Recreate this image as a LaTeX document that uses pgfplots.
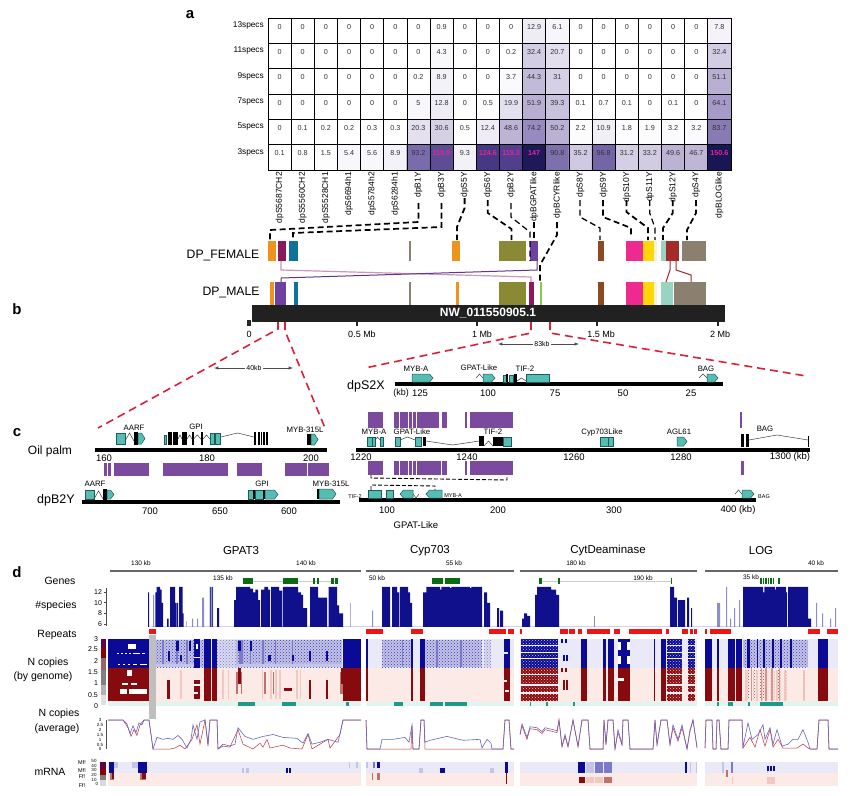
\documentclass[border=0pt]{standalone}
\usepackage{fontspec}
\setmainfont{Liberation Sans}
\usepackage{pgfplots}
\usepackage{pgfplotstable}
\usetikzlibrary{patterns}
\pgfplotsset{compat=1.18}
\definecolor{gteal}{HTML}{55BDB3}\definecolor{gedge}{HTML}{1E5C58}
\definecolor{pblock}{HTML}{7B4A9E}\definecolor{rdash}{HTML}{D9213A}
\definecolor{hbd}{HTML}{0A0A96}\definecolor{hbm}{HTML}{7A7AC8}\definecolor{hbl}{HTML}{C4C4E8}\definecolor{hbg}{HTML}{E9E9F7}
\definecolor{hrd}{HTML}{870A0F}\definecolor{hrm}{HTML}{C0716A}\definecolor{hrl}{HTML}{F0C9C2}\definecolor{hrg}{HTML}{FBEAE5}
\definecolor{tld}{HTML}{1D9A8A}\definecolor{tlg}{HTML}{E0F5F0}
\definecolor{navy}{HTML}{10108C}\definecolor{lnavy}{HTML}{8C8CC8}
\definecolor{gdark}{HTML}{0B6B12}\definecolor{rep}{HTML}{EE1515}
\definecolor{cor}{HTML}{F0921E}\definecolor{cma}{HTML}{8B1A5B}\definecolor{cte}{HTML}{0E7396}
\definecolor{cta}{HTML}{8B7F70}\definecolor{col}{HTML}{8A8A35}\definecolor{cpu}{HTML}{7040A0}
\definecolor{cbr}{HTML}{8B4A20}\definecolor{cpi}{HTML}{EE2A90}\definecolor{cye}{HTML}{FFD60A}
\definecolor{cpa}{HTML}{FAF3D0}\definecolor{cmi}{HTML}{98D4BF}\definecolor{crb}{HTML}{A52A2A}
\definecolor{cgr}{HTML}{8CC84B}\definecolor{pinklab}{HTML}{E0259A}
\definecolor{hbp}{HTML}{3A3AAC}\definecolor{hrp}{HTML}{B04A4A}
\newcommand\R[5]{\addplot[fill=#5,draw=none,forget plot] coordinates {(#1,#2)(#3,#2)(#3,#4)(#1,#4)} --cycle;}
\newcommand\RR[4]{\foreach \a/\b in {#4}{\edef\tmp{\noexpand\addplot[fill=#3,draw=none,forget plot] coordinates {(\a,#1)(\b,#1)(\b,#2)(\a,#2)} --cycle;}\tmp}}
\newcommand\PP[4]{\foreach \a/\b in {#4}{\edef\tmp{\noexpand\addplot[pattern=crosshatch dots,pattern color=#3,draw=none,forget plot] coordinates {(\a,#1)(\b,#1)(\b,#2)(\a,#2)} --cycle;}\tmp}}
\newcommand\Li[3]{\addplot[#1,line width=#2,forget plot] coordinates {#3};}
\newcommand\T[4]{\node[font=\fontsize{#3}{#3}\selectfont,inner sep=0pt] at (axis cs:#1,#2) {#4};}
\newcommand\G[4]{\addplot[fill=gteal,draw=gedge,line width=.5pt,forget plot] coordinates {(#1,#2)(#3,#2)(#3,#4)(#1,#4)} --cycle;}
\newcommand\K[4]{\addplot[fill=black,draw=none,forget plot] coordinates {(#1,#2)(#3,#2)(#3,#4)(#1,#4)} --cycle;}
\newcommand\GR[4]{\pgfmathsetmacro\pa{#3-3.5}\pgfmathsetmacro\pm{(#2+#4)/2}\edef\tmp{\noexpand\addplot[fill=gteal,draw=gedge,line width=.5pt,forget plot] coordinates {(#1,#2)(\pa,#2)(#3,\pm)(\pa,#4)(#1,#4)} --cycle;}\tmp}
\newcommand\GL[4]{\pgfmathsetmacro\pa{#1+3.5}\pgfmathsetmacro\pm{(#2+#4)/2}\edef\tmp{\noexpand\addplot[fill=gteal,draw=gedge,line width=.5pt,forget plot] coordinates {(\pa,#2)(#3,#2)(#3,#4)(\pa,#4)(#1,\pm)} --cycle;}\tmp}
\newcommand\Ca[4]{\pgfmathsetmacro\pm{(#1+#2)/2}\edef\tmp{\noexpand\addplot[black!75,line width=.5pt,forget plot] coordinates {(#1,#3)(\pm,#4)(#2,#3)};}\tmp}
\tikzset{bd/.style={black,line width=1.7pt,dash pattern=on 6pt off 3.5pt},rd/.style={rdash,line width=1.6pt,dash pattern=on 8pt off 5pt}}
\pgfplotstableread[row sep=\\]{
x y v\\
0 5 0\\1 5 0\\2 5 0\\3 5 0\\4 5 0\\5 5 0\\6 5 0\\7 5 0.9\\8 5 0\\9 5 0\\10 5 0\\11 5 12.9\\12 5 6.1\\13 5 0\\14 5 0\\15 5 0\\16 5 0\\17 5 0\\18 5 0\\19 5 7.8\\
0 4 0\\1 4 0\\2 4 0\\3 4 0\\4 4 0\\5 4 0\\6 4 0\\7 4 4.3\\8 4 0\\9 4 0\\10 4 0.2\\11 4 32.4\\12 4 20.7\\13 4 0\\14 4 0\\15 4 0\\16 4 0\\17 4 0\\18 4 0\\19 4 32.4\\
0 3 0\\1 3 0\\2 3 0\\3 3 0\\4 3 0\\5 3 0\\6 3 0.2\\7 3 8.9\\8 3 0\\9 3 0\\10 3 3.7\\11 3 44.3\\12 3 31\\13 3 0\\14 3 0\\15 3 0\\16 3 0\\17 3 0\\18 3 0\\19 3 51.1\\
0 2 0\\1 2 0\\2 2 0\\3 2 0\\4 2 0\\5 2 0\\6 2 5\\7 2 12.8\\8 2 0\\9 2 0.5\\10 2 19.9\\11 2 51.9\\12 2 39.3\\13 2 0.1\\14 2 0.7\\15 2 0.1\\16 2 0\\17 2 0.1\\18 2 0\\19 2 64.1\\
0 1 0\\1 1 0.1\\2 1 0.2\\3 1 0.2\\4 1 0.3\\5 1 0.3\\6 1 20.3\\7 1 30.6\\8 1 0.5\\9 1 12.4\\10 1 48.6\\11 1 74.2\\12 1 50.2\\13 1 2.2\\14 1 10.9\\15 1 1.8\\16 1 1.9\\17 1 3.2\\18 1 3.2\\19 1 83.7\\
0 0 0.1\\1 0 0.8\\2 0 1.5\\3 0 5.4\\4 0 5.6\\5 0 8.9\\6 0 93.2\\7 0 110.9\\8 0 9.3\\9 0 124.6\\10 0 119.3\\11 0 147\\12 0 90.8\\13 0 35.2\\14 0 96.8\\15 0 31.2\\16 0 33.2\\17 0 49.6\\18 0 46.7\\19 0 150.6\\
}\heat
\begin{document}
\begin{tikzpicture}
\begin{axis}[at={(0pt,0pt)},anchor=south west,scale only axis,width=856pt,height=795pt,
 xmin=0,xmax=856,ymin=0,ymax=795,y dir=reverse,hide axis,clip=false]
\R{0}{0}{856}{795}{white}
\node[font=\bfseries\fontsize{15}{15}\selectfont,inner sep=0pt] at (axis cs:190,15) {a};
\node[font=\bfseries\fontsize{15}{15}\selectfont,inner sep=0pt] at (axis cs:17,309) {b};
\node[font=\bfseries\fontsize{15}{15}\selectfont,inner sep=0pt] at (axis cs:17,433) {c};
\node[font=\bfseries\fontsize{15}{15}\selectfont,inner sep=0pt] at (axis cs:17,572) {d};
\T{223}{255.7}{12.2}{DP\_FEMALE}
\T{231}{292.7}{12.2}{DP\_MALE}
\RR{241}{261}{cor}{268.4/276.1,451.8/459.9}
\RR{241}{261}{cma}{277.9/285.9}
\RR{241}{261}{cte}{289/297.9}
\RR{241}{261}{cta}{409/411,682/706}
\RR{241}{261}{col}{498.8/525.8}
\RR{241}{261}{cpu}{530/538}
\RR{241}{261}{cbr}{598/604}
\RR{241}{261}{cpi}{625.8/643}
\RR{241}{261}{cye}{643/654}
\RR{241}{261}{cpa}{654/657}
\RR{241}{261}{cmi}{660.9/665.5}
\RR{241}{261}{crb}{665.5/679}
\RR{282}{305}{cor}{270/274.4,456/458.9}
\RR{282}{305}{cpu}{275/286.3}
\RR{282}{305}{cte}{294/297.9}
\RR{282}{305}{cta}{409/411,673.9/706}
\RR{282}{305}{col}{498.8/525.8}
\RR{282}{305}{cma}{529.4/534}
\RR{282}{305}{cgr}{540/542}
\RR{282}{305}{cbr}{598/604}
\RR{282}{305}{cpi}{625.8/643}
\RR{282}{305}{cye}{643/654}
\RR{282}{305}{cpa}{654/657}
\RR{282}{305}{cmi}{661/673}
\Li{draw=cma!45}{1.2pt}{(281,261)(281,270)(531,277)(531,282)}
\Li{draw=cpu!85!black}{1pt}{(537,261)(537,270)(281,278)(281,282)}
\Li{draw=crb}{1pt}{(670,261)(670,270)(666,282)}
\Li{draw=crb}{1pt}{(676,261)(676,270)(691,275)(691,282)}
\R{252}{305}{725}{322}{black!87}
\node[font=\bfseries\fontsize{12}{12}\selectfont,text=white,inner sep=0pt] at (axis cs:488,313.5) {NW\_011550905.1};
\RR{320}{326}{black!85}{247/251}
\RR{322}{326}{black!85}{356/358,476/478,596/598,717/719}
\T{249}{334}{9}{0}\T{362}{334}{9}{0.5 Mb}\T{482}{334}{9}{1 Mb}\T{601}{334}{9}{1.5 Mb}\T{720}{334}{9}{2 Mb}
\Li{bd}{1.7pt}{(418.4,203)(418.4,222)(270,230)(270,240)}
\Li{bd}{1.7pt}{(441.5,203)(441.5,227)(293,233)(293,240)}
\Li{bd}{1.8pt}{(464.6,198)(464.6,208)(457,227)(457,240)}
\Li{bd}{1.7pt}{(487.8,200)(487.8,213)(511.5,229)(511.5,240)}
\Li{bd}{1.2pt}{(510.9,203)(510.9,217)(530,232)(530,261)}
\Li{bd}{1.4pt}{(534,222)(534,241)}
\Li{bd}{1.7pt}{(557,222)(557,235)(540,265)(540,281)}
\Li{bd}{1.3pt}{(580,200)(580,217)(600,228)(600,240)}
\Li{bd}{1.7pt}{(603,200)(603,217)(631,228)(631,235)}
\Li{bd}{1.8pt}{(626.5,200)(626.5,212)(648,228)(648,240)}
\Li{bd}{1.2pt}{(649.7,200)(649.7,213)(655,228)(655,240)}
\Li{bd}{1.8pt}{(672.8,200)(672.8,213)(663,228)(663,240)}
\Li{bd}{1.7pt}{(696,200)(696,213)(687,230)(687,240)}
\Li{rd}{1.6pt}{(278,322)(278,329)(98,428)}
\Li{rd}{1.6pt}{(285,322)(285,331)(325,428)}
\Li{rd}{1.6pt}{(531,322)(531,333)(365,368)}
\Li{rd}{1.6pt}{(550,322)(550,333)(806,376)}
\draw[<->,>=latex,black!70,line width=.5pt] (axis cs:214,368) -- (axis cs:293,368);
\node[fill=white,inner sep=1pt,font=\fontsize{7}{7}\selectfont] at (axis cs:254,368) {40kb};
\draw[<->,>=latex,black!70,line width=.5pt] (axis cs:498,344) -- (axis cs:579,344);
\node[fill=white,inner sep=1pt,font=\fontsize{7}{7}\selectfont] at (axis cs:542,344) {83kb};
\T{50}{451}{12}{Oil palm}
\T{56}{500}{12.5}{dpB2Y}
\T{366}{386}{12.5}{dpS2X}
\R{95}{448}{327}{452}{black}
\R{356}{448}{810}{452}{black}
\R{82}{500}{340}{504}{black}
\R{359}{498}{756}{502}{black}
\R{395}{382}{723}{386}{black}
\T{104}{458}{9.5}{160}\T{207}{458}{9.5}{180}\T{311}{458}{9.5}{200}
\T{361}{457}{9.5}{1220}\T{467}{457}{9.5}{1240}\T{574}{457}{9.5}{1260}\T{681}{457}{9.5}{1280}\T{790}{457}{9.5}{1300 (kb)}
\T{150}{511}{9.5}{700}\T{220}{511}{9.5}{650}\T{289}{511}{9.5}{600}
\T{387}{510}{9.5}{100}\T{498}{510}{9.5}{200}\T{614}{510}{9.5}{300}\T{738}{510}{9.5}{400 (kb)}
\T{416}{525}{9.5}{GPAT-Like}
\T{401}{393}{9}{(kb)}\T{420}{393}{9.5}{125}\T{488}{393}{9.5}{100}\T{555}{393}{9.5}{75}\T{623}{393}{9.5}{50}\T{691}{393}{9.5}{25}
\RR{463}{476}{pblock}{103.7/107.3,108.3/111.3,114/149,163/228,237/261.7,285/306.7,308/329}
\RR{412}{428}{pblock}{368/383,394/398.7,399.7/408,409/412.3,413.3/416,417.3/439.3,442/447,465/467.3,470/513,740.3/742}
\RR{461}{475}{pblock}{368/383,394/398.7,399.7/408,409/412.3,413.3/416,417.3/441,442/447,465/467.3,470/513,741/744}
\T{134}{428}{7.8}{AARF}\T{196}{427}{7.8}{GPI}\T{305}{430}{7.8}{MYB-315L}
\G{116}{433}{125}{444}\Ca{125}{134}{441}{433}\K{134}{432}{138}{445}\GR{138}{433}{145}{444}
\G{164}{435}{166}{444}\K{168}{432}{172}{445}\K{173}{432}{178}{445}\Ca{178}{182}{439}{435}\K{182}{432}{187}{445}\Ca{187}{192}{439}{435}\K{192}{432}{193.5}{445}\Ca{193.5}{201}{439}{435}\K{201}{432}{203}{445}\Ca{203}{210}{439}{435}
\G{210}{433}{214}{444}\G{215}{433}{220}{444}\Ca{221}{254}{437}{433}
\RR{432}{445}{black}{254/256,257.5/259.5,260.5/262,263/264.5,265.5/267.5}
\K{307}{434}{311}{445}\GR{311}{434}{318}{445}
\T{95}{484}{7.8}{AARF}\T{262}{484}{7.8}{GPI}\T{331}{484}{7.8}{MYB-315L}
\G{85}{490}{94}{499}\Ca{94}{103}{499}{491}\K{103}{489}{107}{500}\GR{107}{490}{114}{499}
\G{248}{490}{253}{499}\K{253}{490}{255}{499}\G{255}{490}{263}{499}\K{263}{490}{265}{499}\GR{265}{490}{278}{499}
\K{317}{489}{319}{499}\GR{319}{489}{336}{499}
\T{416}{369}{7.8}{MYB-A}\T{479}{368}{7.8}{GPAT-Like}\T{525}{369}{7.8}{TIF-2}\T{706}{369}{7.8}{BAG}
\GR{412}{374}{433}{382}
\Ca{476}{483}{378}{374}\GR{483}{374}{495}{382}
\G{503}{375}{506}{382}\K{506}{374}{508}{382}\G{509}{375}{513}{382}\K{514}{374}{517}{382}\Ca{517}{526}{381}{378}\G{526}{374}{549}{382}
\Ca{699}{707}{378}{374}\GR{707}{374}{718}{382}
\T{374}{432}{7.8}{MYB-A}\T{412}{432}{7.8}{GPAT-Like}\T{493}{432}{7.8}{TIF-2}\T{602}{432}{7.8}{Cyp703Like}\T{679}{432}{7.8}{AGL61}\T{765}{429}{7.8}{BAG}
\G{367}{437}{372}{446}\G{372}{437}{375}{446}\Ca{375}{380}{440}{437}\G{380}{437}{383}{446}
\G{395}{437}{400}{446}\Ca{400}{415}{440}{437}\G{415}{437}{421}{446}\K{423}{437}{426}{446}\Ca{426}{479}{441}{445}
\K{479}{436}{484}{446}\Ca{484}{493}{446}{441}\K{493}{437}{503}{446}\G{503}{437}{511}{446}
\G{600}{437}{608}{446}\G{608}{437}{613}{446}
\GR{677}{437}{687}{446}
\K{741}{434}{744}{447}\K{746}{434}{749}{447}\Li{draw=black!75}{.5pt}{(749,440)(777,435)(808,440)}\K{807.5}{436}{808.5}{447}
\T{355}{497}{5.5}{TIF-2}\T{453}{496}{5.5}{MYB-A}\T{764}{497}{5.5}{BAG}
\G{368}{490}{381}{498}\G{386}{490}{393}{498}\GL{400}{490}{413}{498}\Ca{413}{419}{494}{498}\GL{426}{490}{442}{498}
\Ca{735}{742}{494}{490}\GR{742}{490}{754}{498}
\Li{black,line width=.9pt,dash pattern=on 4pt off 2pt}{.9pt}{(371,475)(371,478)(507,480)(507,475)}
\Li{black,line width=.9pt,dash pattern=on 4pt off 2pt}{.9pt}{(371,490)(371,485)(435,486)(435,490)}
\T{60}{581}{10.5}{Genes}\T{56}{606}{10.5}{\#species}\T{57}{635}{10.5}{Repeats}
\T{48}{663}{10.5}{N copies}\T{43}{677}{10.5}{(by genome)}
\T{59}{714}{10.5}{N copies}\T{57}{729}{10.5}{(average)}\T{50}{772}{10.5}{mRNA}
\T{241}{551}{11.5}{GPAT3}\T{430}{551}{11.5}{Cyp703}\T{608}{551}{11.5}{CytDeaminase}\T{761}{551}{11.5}{LOG}
\RR{570.2}{571.8}{black!60}{110/361,366/514,520/697,705/838}
\T{141}{563}{6.5}{130 kb}\T{306}{563}{6.5}{140 kb}\T{223}{578}{6.5}{135 kb}\T{377}{578}{6.5}{50 kb}\T{454}{563}{6.5}{55 kb}\T{576}{563}{6.5}{180 kb}\T{643}{578}{6.5}{190 kb}\T{751}{577}{6.5}{35 kb}\T{816}{563}{6.5}{40 kb}
\Li{draw=black!20}{.6pt}{(253,581)(283,581)}\Li{draw=black!20}{.6pt}{(298,581)(338,581)}\Li{draw=black!20}{.6pt}{(542,581)(671,581)}
\RR{578}{584}{gdark}{243/253,283/298,313/315,317/319,331/334,335/338,432/443,445/460,539/542,558/560,671/672,760/761.5,762.5/764,765/766.5,767.5/769,770/771.5,772.5/774,778/780}
\Li{draw=black!70}{.5pt}{(106,588)(106,626)}
\RR{591.7}{592.3}{black!70}{104/106}\RR{602.4}{603}{black!70}{104/106}\RR{613}{613.6}{black!70}{104/106}\RR{623.7}{624.3}{black!70}{104/106}
\T{98}{592}{7}{12}\T{98}{603}{7}{10}\T{100}{613}{7}{8}\T{100}{624}{7}{6}
\RR{629}{634}{rep}{149/156,366/383,411/423,489/506,508/514,520/522,560/568,568.5/575,578/582,587/610,614/620,629/662,666/669,682/688,690/693,693.5/697,705/707,710/731,808/820,827/838}
\RR{639}{668}{hbg}{108/361,366/514,520/697,705/838}
\RR{668}{702}{hrg}{108/361,366/514,520/697,705/838}
\RR{702}{706}{tlg}{108/361,366/514,520/697,705/838}
\RR{640}{667}{hbl}{156/194,200/204,236/342,382/412,424/482,743/808}
\RR{640}{667}{hbg!60!hbl}{217/236,484/491}
\PP{640}{667}{hbp}{156/194,200/204,236/342,382/412,424/482,743/808}
\PP{640}{667}{hbm}{217/236,484/491}
\RR{640}{667}{hbm}{162/164,176/178,186/188,239/243,250/251,262/264,275/276,292/293,402/403,436/438,460/462}
\RR{639}{668}{hbd}{108/149,343/361,204/211,212/217,194/200,366/367.5,411/413,420/424.5,504/510}
\RR{651}{661}{hbd}{168/169.5,309/310.5,326/328}
\RR{641}{651}{hbd}{238/241,176/179,250/252,189/191}
\RR{655}{661}{hbd}{180/182,268/271,292/294}
\RR{664}{667}{hbl}{156/194,236/342}
\RR{644}{649}{white}{128/136,196/198}
\RR{652.5}{654}{white}{117/119,121/123,125/127,129/131,133/140,142/145}
\RR{663.5}{665}{white}{118/120,123/125,128/130,133/137,140/147}
\RR{656.5}{658}{white}{194/200}
\RR{652}{654}{hbg}{504/508}
\RR{668}{701}{hrd}{108/149,343/361,204/211,212/217,366/367.5,411/413,420/424.5,504/510}
\RR{670}{699}{hrl}{180/182,222/224,228/229,262/263,270/272,275/277,279/281,296/298,300/301}
\RR{672}{694}{hrm}{236/238,241/242,264/266,273/274,340/343}
\RR{680}{699}{hrd}{167/169.5,194/200,309/310.5,326/328}
\RR{668}{684}{hrd}{238/241,341/343}
\RR{688}{691}{hrd}{284/292}
\RR{670}{676}{white}{127/132}
\RR{683}{685}{white}{122/128,131/137}
\RR{689}{694}{white}{120/127,129/147}
\RR{684}{686}{white}{194/200}
\RR{692}{694}{white}{194/198}
\RR{680}{682}{white}{504/507}
\RR{690}{692}{white}{505/509}
\RR{639}{668}{hbd}{521/558,581/587,603/606,608/614,654/655,661/666,667/682,688/695,618/630}
\RR{668}{701}{hrd}{521/558,581/587,603/606,608/614,654/655,661/666,667/682,688/695,618/630}
\RR{639}{643}{hbd}{561/563,565/567}
\RR{655}{661}{hbd}{563/565,566/568}
\RR{668}{672}{hrd}{561/563,565/567}
\RR{680}{690}{hrd}{563/565,566/568}
\PP{639}{668}{hbl}{521/558,667/682,688/695}
\PP{668}{701}{hrl}{521/558,667/682,688/695}
\foreach \yy/\yb in {645/646,651.5/652.5,657.5/658.5,674/675,684/685.5,692/693.5}{\edef\tmp{\noexpand\RR{\yy}{\yb}{white!75!hbl}{521/558,667/682,688/695}}\tmp}
\RR{642}{650}{white}{618/621,627/630}
\RR{656}{664}{white}{618/621,627/630}
\RR{678}{681}{white}{618/624}
\RR{639}{668}{hbd}{705/712,717/719,728/734.5,735.5/742,818/828,747/750,757/758,763/765,772/774,780/782,790/792}
\RR{668}{701}{hrd}{705/712,717/719,728/734.5,735.5/742,818/828}
\RR{670}{701}{hrl}{745/747,756/758,776/778,784/786,803/805}
\PP{670}{699}{hrp}{747/749,753/755,760/768,770/775,778/781,785/787,803/804}
\RR{668}{701}{hrm!70!hrg}{751/752,761/762,765/767,771/773,779/780}
\RR{702}{705.5}{tld}{238/255,282/296,346/349,394/403,430/443,445/467,717/719,728/733,748/750,760/783,530/531,546/548,573/575}
\foreach \yy/\yb/\cc in {639/648/{black!55!blue!60!red},648/658/{red!55!black},658/670/{red!30!black!60},670/685/{black!50},685/695/{black!30},695/705/{black!12}}{\edef\tmp{\noexpand\R{101}{\yy}{106}{\yb}{\cc}}\tmp}
\T{96}{639}{7}{3}\T{93}{649}{7}{2.5}\T{96}{661}{7}{2}\T{93}{672}{7}{1.5}\T{96}{683}{7}{1}\T{93}{695}{7}{0.5}\T{96}{706}{7}{0}
\R{149}{635}{156}{719}{black!25}
\Li{draw=black!70}{.5pt}{(106,720)(106,749)}
\T{100}{720}{4.5}{3}\T{100}{725}{4.5}{2.5}\T{100}{730}{4.5}{2}\T{100}{735}{4.5}{1.5}\T{100}{740}{4.5}{1}\T{100}{745}{4.5}{0.5}\T{100}{749}{4.5}{0}
\RR{762}{773}{hbg}{108/361,366/514,520/697,705/838}
\RR{773}{786}{hrg}{108/361,366/514,520/697,705/838}
\foreach \yy/\yb/\cc in {762/769/{black!55!blue!60!red},769/775/{red!55!black},775/780/{black!50},780/786/{black!15}}{\edef\tmp{\noexpand\R{100}{\yy}{106}{\yb}{\cc}}\tmp}
\RR{762}{773}{hbd}{108.5/114,138/147,505/508,578/585,685/687}
\RR{762}{768}{hbl}{114/118,132/138,349/350,356/358,366/367.5}
\RR{762}{768}{hbm}{373/375}\RR{762}{768}{hbd}{377/380}
\RR{768}{773}{hbl}{242/244,246/249,419/423,490/494,767/768}
\RR{768}{773}{hbd}{286/288,289/291,440/445}
\RR{762}{773}{hbm}{604/612,595/603,731/733}
\RR{762}{773}{hbl}{586/594,690/691,696/697,722/724}
\RR{766}{771}{hbd}{767/769,770/772,773/775}
\RR{773}{780}{hrm}{110/114,140/146,372/373,377/380}
\RR{773}{779}{hrd}{112/114,142/146}
\RR{773}{784}{hrd}{505.5/506.5}
\RR{777}{783}{hrd}{579/585}\RR{777}{783}{hrm}{604/612}\RR{777}{783}{hrl}{595/603,586/594}
\RR{770}{777}{hrm}{726/728}\RR{777}{784}{hrl}{767/775,732/733}
\T{82}{762}{5.5}{Mf!}\T{82}{770}{5.5}{Mf!}\T{82}{776}{5.5}{Ff!}\T{82}{785}{5.5}{Ff!}
\T{94}{761}{4.5}{50}\T{94}{766}{4.5}{40}\T{94}{770}{4.5}{30}\T{94}{775}{4.5}{20}\T{94}{780}{4.5}{10}\T{97}{784}{4.5}{0}
\end{axis}
\begin{axis}[at={(268pt,625pt)},anchor=south west,scale only axis,width=463pt,height=152pt,
 xmin=-0.5,xmax=19.5,ymin=-0.5,ymax=5.5,axis line style={black,line width=.8pt},axis on top,
 colormap={hm}{rgb255(0)=(255,255,255) rgb255(10)=(242,240,247) rgb255(32)=(212,206,228) rgb255(50)=(186,177,212) rgb255(75)=(150,137,190) rgb255(93)=(122,108,170) rgb255(120)=(80,62,140) rgb255(150)=(24,22,84)},
 point meta min=0,point meta max=150,
 xtick={0,...,19},ytick={0,...,5},
 minor xtick={-0.5,0.5,...,19.5},minor ytick={-0.5,0.5,...,5.5},
 grid=minor,minor grid style={black,line width=.8pt},
 tick style={draw=none},minor tick length=0pt,major tick length=0pt,
 xticklabels={dpS5687CH2,dpS5560CH2,dpS5528CH1,dpS6694h1,dpS5784h2,dpS6284h1,dpB1Y,dpB3Y,dpS5Y,dpS6Y,dpB2Y,dpBGPATlike,dpBCYRlike,dpS8Y,dpS9Y,dpS10Y,dpS11Y,dpS12Y,dpS4Y,dpBLOGlike},
 x tick label style={rotate=90,anchor=east,font=\fontsize{8.5}{8.5}\selectfont,inner sep=2pt},
 yticklabels={3specs,5specs,7specs,9specs,11specs,13specs},
 y tick label style={font=\fontsize{8.3}{8.3}\selectfont,yshift=5pt,inner xsep=4pt}]
\addplot[matrix plot*,mesh/cols=20,mesh/ordering=x varies,point meta=explicit,forget plot] table[x=x,y=y,meta=v] {\heat};
\addplot[draw=none,mark=none,forget plot,point meta=explicit symbolic,
 nodes near coords={\ifdim\pgfplotspointmeta pt>100pt \textcolor{pinklab}{\bfseries\pgfplotspointmeta}\else\textcolor{black!80}{\pgfplotspointmeta}\fi},
 every node near coord/.append style={anchor=center,yshift=4pt,font=\fontsize{7.2}{7.2}\selectfont,inner sep=0pt}]
 table[x=x,y=y,meta=v] {\heat};
\end{axis}
\begin{axis}[at={(0pt,168pt)},anchor=south west,scale only axis,width=856pt,height=40pt,
 xmin=0,xmax=856,ymin=5.4,ymax=13,hide axis]
\addplot[const plot,fill=lnavy,draw=none,forget plot] coordinates {
(153,11.5)(154,0)(186,6.5)(186.7,0)(192,7)(193,0)(197,7)(198,0)(202,11)(204,0)(209.5,13)(213,0)(350,10)(350.6,0)
(372,8.5)(373,0)(594,7.5)(594.8,0)(717,10)(720,0)(726,13)(727,0)(730,7)(731,0)(734,9)(735,0)(739,10.5)(740,0)(816,10)(817,0)(822,8)(823,0)(830,7)(831,0)(835,9)(836,0)} \closedcycle;
\addplot[const plot,fill=navy,draw=none,forget plot] coordinates {
(148,12)(149,0)(155.3,12)(156.7,13)(158,0)(158.4,13)(160,12.5)(161.5,10)(163,0)(167,7)(168.5,0)(170,13)(172,0)(172.4,13)(175,10)(176.6,0)(177,10)(178,0)(179,13)(181,0)(181.4,13)(182.5,8)(183.5,0)
(210,13)(210.6,0)(212,13)(212.6,0)(217,9)(219,0)
(234,10.5)(236,13)(240,0)(240.4,13)(246,0)(246.4,13)(250,12.7)(253,12)(255,0)(255.4,12.5)(258,10.5)(260,0)(261,12.5)(264,0)(264.4,13)(268,0)(268.4,12.5)(270,0)(271,13)(275,0)(275.4,13)(279,0)(279.4,12.3)(282,0)(282.8,13)(287,0)(287.4,13)(293,0)(293.4,13)(298,12)(301,0)(301.4,11.5)(303,9)(307,0)(310,13)(313,0)(313.4,13)(318,11)(320,0)(320.4,11)(327,0)(328.5,13)(333,0)(333.4,13)(337,9.5)(339,0)(339.4,8)(343,0)
(382,13)(385,0)(385.4,13)(388,0)(388.4,13)(390,0)(392,13)(395,0)(395.4,13)(397,12)(399,0)(399.8,13)(403,0)(403.4,13)(408,12)(410,10)(412,0)(423,12)(426,0)(426.4,13)(432,0)(432.4,13)(440,12.5)(441,0)(441.4,13)(450,12.8)(451,0)(451.4,13)(458,0)(458.4,13)(464,0)(464.4,13)(470,12.8)(471,0)(471.4,13)(476,0)(476.4,13)(482,0)(484,12)(487,10)(490,0)(497,9)(499,0)(500,8.5)(503,0)
(522,7)(524,8)(527,7.5)(530,0)(535,11.5)(537,13)(540,0)(540.4,13)(545,0)(545.4,13)(551,12.5)(553,0)(553.4,12.5)(556,11.5)(559,0)(670,13)(672,0)(672.4,13)(674,11)(677,0)(678,10.5)(681,0)(681.4,10.5)(685,0)(687,11)(689,0)(691,9)(692,0)
(743,13)(747,0)(747.4,13)(752,0)(752.4,13)(757,0)(757.4,13)(763,12)(764,0)(764.4,13)(770,0)(770.4,13)(775,12.5)(776,13)(781,0)(781.4,13)(786,12)(787,0)(788,13)(793,0)(793.4,13)(800,0)(800.4,13)(808,7)(811,0)} \closedcycle;
\end{axis}
\begin{axis}[at={(0pt,46pt)},anchor=south west,scale only axis,width=856pt,height=29pt,
 xmin=0,xmax=856,ymin=0,ymax=3,hide axis,clip=false]
\addplot[draw=red!70!black!80,line width=.5pt,forget plot] coordinates {(108,3)(123,3)(128,2.2)(131,1.3)(134,2)(137,1.4)(140,2.5)(144,3)(149,3)(153,0)(170,0)(175,.1)(180,.4)(185,0)(192,1)(197,2.5)(200,.5)(205,3)(208,.3)(210,3)(217,3)(218,0)(223,.3)(230,.2)(238,2)(243,.5)(253,0)(260,.6)(263,.2)(267,1)(270,.1)(283,.4)(290,.1)(302,0)(308,1.5)(312,0)(328,1)(330,.1)(340,1.5)(343,3)(361,3)};
\addplot[draw=red!70!black!80,line width=.5pt,forget plot] coordinates {(366,3)(367,0)(411,0)(412,2.4)(413,0)(419,0)(421,3)(424,3)(425,0)(503,0)(505,3)(509,3)(511,0)(514,0)};
\addplot[draw=red!70!black!80,line width=.5pt,forget plot] coordinates {(520,1.5)(522,2.4)(527,1)(530,2.1)(537,2)(542,1.6)(545,2)(557,1.7)(559,3)(562,.2)(565,1.3)(568,.2)(573,3)(578,.2)(582,3)(588,3)(590,0)(603,0)(604,3)(606,.4)(608,3)(613,3)(615,0)(618,1.7)(622,.4)(623,3)(628,3)(630,0)(653,0)(655,3)(657,.4)(661,3)(667,3)(670,.4)(673,2.2)(678,.8)(682,2.2)(687,0)(690,1.8)(693,3)(697,.1)};
\addplot[draw=red!70!black!80,line width=.5pt,forget plot] coordinates {(705,.1)(706,3)(712,3)(713,0)(716,0)(717,3)(719,3)(721,0)(728,0)(729,3)(742,3)(743,.1)(750,1.2)(755,.2)(760,2)(765,.3)(770,2)(773,.2)(778,1)(783,.1)(797,.1)(803,.5)(808,.1)(810,0)(817,0)(819,3)(828,3)(829,0)(838,0)};
\addplot[draw=blue!60!black!60,line width=.6pt,forget plot] coordinates {(108,3)(123,3)(127,2.6)(130,1.6)(133,2.4)(136,1.7)(139,2.7)(142,2.5)(144,3)(149,3)(153,0)(157,1.2)(163,1)(168,1.1)(173,1)(178,1.4)(182,1)(187,.1)(191,1)(193,2.5)(197,1)(200,2.8)(205,3)(208,.6)(210,3)(217,3)(218,0)(223,.5)(230,.3)(235,.5)(238,2.2)(245,1.3)(253,1)(263,1.3)(273,1.5)(283,1.2)(297,1.1)(303,.6)(308,1.6)(312,.5)(320,.7)(328,1)(338,.7)(343,3)(361,3)};
\addplot[draw=blue!60!black!60,line width=.6pt,forget plot] coordinates {(366,3)(367,0)(380,0)(382,1)(393,1)(405,1.2)(409,.7)(412,2.5)(413,0)(419,0)(421,3)(424,3)(425,.7)(430,.9)(447,1.3)(463,.9)(480,1)(482,.1)(487,1)(491,.6)(492,0)(503,0)(505,3)(509,3)(511,0)(514,0)};
\addplot[draw=blue!60!black!60,line width=.6pt,forget plot] coordinates {(520,1.5)(522,2.6)(527,1.2)(530,2.3)(537,2.2)(542,1.8)(545,2.2)(557,1.9)(559,3)(562,.3)(565,1.5)(568,.3)(573,3)(578,.3)(582,3)(588,3)(590,0)(603,0)(604,3)(606,.5)(608,3)(613,3)(615,0)(618,2)(622,.5)(623,3)(628,3)(630,0)(653,0)(655,3)(657,.5)(661,3)(667,3)(670,.5)(673,2.5)(678,1)(682,2.5)(687,0)(690,2)(693,3)(697,.2)};
\addplot[draw=blue!60!black!60,line width=.6pt,forget plot] coordinates {(705,.1)(706,3)(712,3)(713,0)(716,0)(717,3)(719,3)(721,0)(728,0)(729,3)(742,3)(743,.2)(748,2.7)(752,1)(758,1.5)(763,2.5)(765,1)(770,2.2)(773,.5)(777,2)(782,.3)(788,.5)(793,1)(798,1)(803,2)(808,.7)(810,0)(817,0)(819,3)(828,3)(829,0)(838,0)};
\end{axis}
\end{tikzpicture}
\end{document}
